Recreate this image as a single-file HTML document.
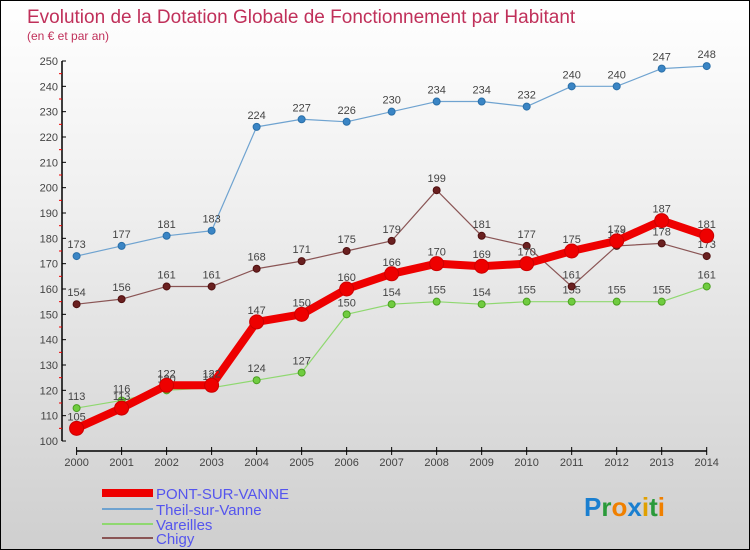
<!DOCTYPE html>
<html><head><meta charset="utf-8"><style>
body{margin:0}
#c{width:750px;height:550px;position:relative;box-sizing:border-box;border:1px solid #000;background:linear-gradient(#fff 0%,#f0f0f0 35%,#cfcfcf 100%);font-family:"Liberation Sans",sans-serif;overflow:hidden}
svg text{font-family:"Liberation Sans",sans-serif}
</style></head><body>
<div id="c">
<svg width="750" height="550" id="s">
<text x="26" y="22" font-size="19" fill="#c0305a">Evolution de la Dotation Globale de Fonctionnement par Habitant</text>
<text x="26" y="39" font-size="12" fill="#c0305a">(en € et par an)</text>
<g id="axes"></g><g id="series"></g>
<g>
<rect x="101" y="488" width="51" height="8" fill="#e00"/>
<text x="155" y="498" font-size="15" fill="#5555ee">PONT-SUR-VANNE</text>
<line x1="101" y1="508" x2="152" y2="508" stroke="#6fa3d0" stroke-width="2"/>
<text x="155" y="514" font-size="15" fill="#5555ee">Theil-sur-Vanne</text>
<line x1="101" y1="523" x2="152" y2="523" stroke="#8fd870" stroke-width="2"/>
<text x="155" y="529" font-size="15" fill="#5555ee">Vareilles</text>
<line x1="101" y1="537" x2="152" y2="537" stroke="#8a5555" stroke-width="2"/>
<text x="155" y="543" font-size="15" fill="#5555ee">Chigy</text>
</g>
<text x="583" y="515" font-size="26" font-weight="bold"><tspan fill="#1a7fd0">P</tspan><tspan fill="#2a9a3a">r</tspan><tspan fill="#f08000">o</tspan><tspan fill="#1a7fd0">x</tspan><tspan fill="#e0a000">i</tspan><tspan fill="#2a9a3a">t</tspan><tspan fill="#f08000">i</tspan></text>
</svg>
</div>
<script>
const years=[2000,2001,2002,2003,2004,2005,2006,2007,2008,2009,2010,2011,2012,2013,2014];
const yTicks=[100,110,120,130,140,150,160,170,180,190,200,210,220,230,240,250];
const pont=[105,113,122,122,147,150,160,166,170,169,170,175,179,187,181];
const theil=[173,177,181,183,224,227,226,230,234,234,232,240,240,247,248];
const vareilles=[113,116,120,121,124,127,150,154,155,154,155,155,155,155,161];
const chigy=[154,156,161,161,168,171,175,179,199,181,177,161,177,178,173];
const NS="http://www.w3.org/2000/svg";
const X=i=>75.6+i*(705.7-75.6)/(years.length-1);
const Y=v=>440-(v-100)*380/150;
function mk(t,a,p){const e=document.createElementNS(NS,t);for(const k in a)e.setAttribute(k,a[k]);p.appendChild(e);return e;}
const ax=document.getElementById('axes'),sg=document.getElementById('series');
const yl=mk('line',{x1:61,y1:Y(250),x2:61,y2:440,stroke:'#000','stroke-width':1.5},ax);


yTicks.forEach(v=>{mk('line',{x1:61,y1:Y(v),x2:65,y2:Y(v),stroke:'#000'},ax);
 if(v<250)mk('line',{x1:58,y1:Y(v+5),x2:61,y2:Y(v+5),stroke:'#e00'},ax);
 const t=mk('text',{x:57,y:Y(v)+4,'font-size':11,fill:'#444','text-anchor':'end'},ax);t.textContent=v;
 
 });
const xl=mk('line',{x1:X(0),y1:450,x2:X(14),y2:450,stroke:'#000','stroke-width':1.5},ax);


years.forEach((y,i)=>{mk('line',{x1:X(i),y1:446,x2:X(i),y2:454,stroke:'#000'},ax);
 const t=mk('text',{x:X(i),y:465,'font-size':11,fill:'#444','text-anchor':'middle'},ax);t.textContent=y;
 
 });
function series(d,name,col,dot,w,r,ld){
 const g=mk('g',{},sg);
 
 
 mk('polyline',{points:d.map((v,i)=>X(i)+','+Y(v)).join(' '),fill:'none',stroke:col,'stroke-width':w,'stroke-linejoin':'round'},g);
 d.forEach((v,i)=>{const c=mk('circle',{cx:X(i),cy:Y(v),r:r,fill:dot,stroke:ld,'stroke-width':1},g);
  
  
  const t=mk('text',{x:X(i),y:Y(v)-8,'font-size':11,fill:'#444','text-anchor':'middle'},g);t.textContent=v;});
}
series(theil,'theil','#6fa3d0','#3a85c5',1.2,3.5,'#2a6fa8');
series(vareilles,'vareilles','#8fd870','#70cc40',1.2,3.5,'#4aa020');
series(chigy,'chigy','#8a5555','#6a2020',1.2,3.5,'#501010');
series(pont,'pont','#e00','#e00',8,7,'#c00');
</script>
</body></html>
